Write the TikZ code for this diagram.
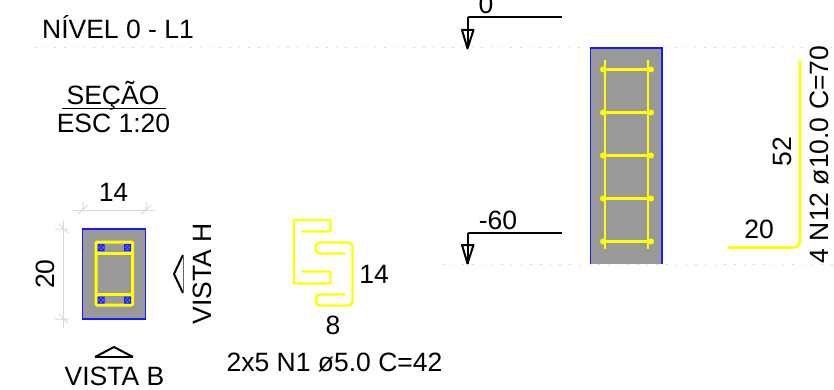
\documentclass[tikz,border=0pt]{standalone}
\usepackage{fontspec}
\setmainfont{Liberation Sans}
\definecolor{concrete}{gray}{0.6}
\definecolor{rebar}{rgb}{1,1,0}
\definecolor{outline}{rgb}{0.1,0.1,1}
\tikzset{
    lbl/.style={inner sep=0pt,anchor=base,font=\fontsize{26.5}{26.5}\selectfont,text=black},
    sect/.style={draw=outline,line width=1.4pt,fill=concrete},
    stirrup/.style={draw=rebar,line width=3pt,rounded corners=1pt},
    dimline/.style={draw=black!15,line width=1pt},
    levelline/.style={draw=black,line width=2pt},
    dotline/.style={draw=black!15,line width=1pt,dash pattern=on 1.5pt off 8.2pt},
    arrowmark/.style={draw=black,line width=2pt,line join=round}
}
\begin{document}
\begin{tikzpicture}[x=1pt,y=-1pt]
    \useasboundingbox (0,0) rectangle (834,390);

    \draw[dotline] (35,48) -- (834,48);
    \draw[dotline] (443,264) -- (834,264);

    %titles
    \node[lbl] (title) at (118,38.5) {NÍVEL 0 - L1};
    \node[lbl] (secao) at (113,105) {SEÇÃO};
    \node[lbl] (esc) at (113.5,133) {ESC 1:20};
    \draw[draw=black,line width=1.8pt] (62,108.5) -- (166,108.5);

    %small section
    \draw[sect] (82.5,229) rectangle (145.5,319);
    \draw[stirrup] (96,242) rectangle (132.5,305);
    \draw[stirrup] (96,253.5) -- (132.5,253.5);
    \draw[stirrup] (96,294) -- (132.5,294);
    \foreach \bx in {101,127.5}
        \foreach \by in {247.5,300}
            \draw[draw=outline,fill=outline!60!white,line width=1pt] (\bx-3,\by-3) rectangle (\bx+3,\by+3) (\bx-3,\by-3) -- (\bx+3,\by+3) (\bx-3,\by+3) -- (\bx+3,\by-3);

    %dimensions
    \draw[dimline] (73,210) -- (155,210);
    \draw[dimline] (83,202) -- (83,210) (78,214) -- (88,205);
    \draw[dimline] (146,202) -- (146,210) (141,214) -- (151,205);
    \draw[dimline] (63.5,220) -- (63.5,328);
    \draw[dimline] (55,229) -- (68,229) (59,224) -- (68,233);
    \draw[dimline] (55,319) -- (68,319) (59,314) -- (68,323);
    \node[lbl] (width) at (113.5,201) {14};
    \node[lbl,rotate=90] (height) at (54,274) {20};

    %view marks
    \draw[arrowmark] (183,255) -- (174,274) -- (183,293);
    \draw[draw=black!60,line width=.6pt] (183,255) -- (183,293);
    \node[lbl,rotate=90] (vistah) at (211.5,274) {VISTA H};
    \draw[arrowmark] (95,357) -- (114,347) -- (133,357);
    \draw[draw=black,line width=1.8pt] (95,357) -- (133,357);
    \node[lbl] (vistab) at (114.5,385) {VISTA B};

    %stirrup N1
    \draw[stirrup,line width=2.4pt] (301.5,231.5) -- (330.5,231.5) -- (330.5,220) -- (294,220) -- (294,283.5) -- (330.5,283.5) -- (330.5,271.5) -- (301.5,271.5);
    \draw[stirrup,line width=2.4pt,rounded corners=4pt] (345,253.5) -- (316,253.5) -- (316,242.5) -- (352.5,242.5) -- (352.5,305.5) -- (316,305.5) -- (316,294.5) -- (345,294.5);
    \node[lbl] (n1h) at (374,283.5) {14};
    \node[lbl] (n1w) at (333,334) {8};
    \node[lbl] (n1) at (334.5,371.5) {2x5 N1 ø5.0 C=42};

    %level marks
    \foreach \ly/\lname/\ltext/\lx in {17.5/top/0/486,232.5/bot/-60/498}{
        \draw[levelline] (467.5,\ly) -- (562,\ly);
        \draw[levelline] (467.5,\ly) -- (467.5,\ly+31);
        \draw[arrowmark] (462,\ly+12.5) -- (473.5,\ly+12.5) -- (467.5,\ly+31) -- cycle;
        \node[lbl] (lev\lname) at (\lx,\ly-3.5) {\ltext};
    }

    %column
    \fill[concrete] (590.5,48) rectangle (662,264);
    \draw[sect,fill=none] (590.5,264) -- (590.5,48) -- (662,48) -- (662,264);
    \foreach \bx in {605,648}
        \draw[draw=rebar,line width=2.8pt] (\bx,60) -- (\bx,248.5);
    \foreach \ty in {69.5,112.5,155.5,198.5,241.5}{
        \draw[draw=rebar,line width=3.6pt] (603,\ty) -- (651,\ty);
        \fill[rebar] (603,\ty) circle (3) (651,\ty) circle (3);
    }

    %bar N12
    \draw[draw=rebar,line width=2.8pt,rounded corners=7pt] (800,60) -- (800,247.5) -- (728,247.5);
    \node[lbl,rotate=90] (n12v) at (791,151.5) {52};
    \node[lbl] (n12h) at (759,238.5) {20};
    \node[lbl,rotate=90] (n12) at (828.5,154.5) {4 N12 ø10.0 C=70};
\end{tikzpicture}
\end{document}
